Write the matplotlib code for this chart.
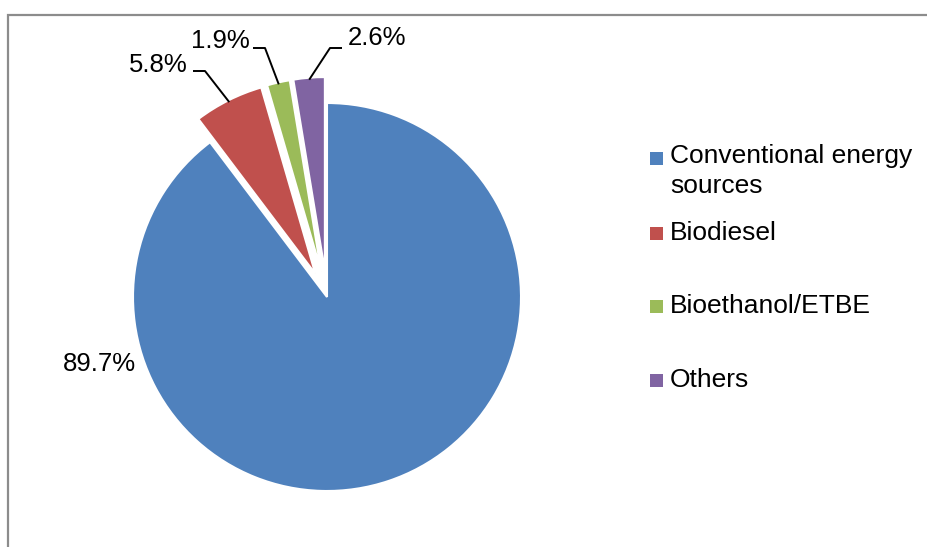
import numpy as np
import matplotlib
matplotlib.use("Agg")
import matplotlib.pyplot as plt
from matplotlib.patches import Rectangle

# ── Data ──
categories = ["Conventional energy\nsources", "Biodiesel", "Bioethanol/ETBE", "Others"]
shares = [89.7, 5.8, 1.9, 2.6]
pct_labels = ["89.7%", "5.8%", "1.9%", "2.6%"]
colors = ["#4F81BD", "#C0504D", "#9BBB59", "#8064A2"]
explode_frac = [0, 0.134, 0.134, 0.134]

plt.rcParams["font.family"] = ["Liberation Sans", "DejaVu Sans"]

W, H = 928, 547
fig = plt.figure(figsize=(W / 100, H / 100), dpi=100)
ax = fig.add_axes([0, 0, 1, 1])

# pie in pixel coordinates (y measured from bottom)
cx, cy, R = 327, H - 297, 194
wedges, _ = ax.pie(shares, colors=colors, explode=[e * R for e in explode_frac],
                   startangle=90, counterclock=False, center=(cx, cy), radius=R,
                   wedgeprops=dict(edgecolor="white", linewidth=1.5))
ax.set_xlim(0, W)
ax.set_ylim(0, H)
ax.set_aspect("auto")
ax.axis("off")

# outer chart frame
ax.add_patch(Rectangle((8, -10), W + 20, H - 15 + 10, fill=False,
                       edgecolor="#8c8c8c", linewidth=1.6))

# ── Data labels ──
fs = 18.5
ax.text(99, H - 364, pct_labels[0], ha="center", va="center", fontsize=fs)

# leader lines for the exploded slices: (text xy, elbow start, elbow end)
label_pos = {1: ((158, 65), (193, 71), (205, 71)),
             2: ((220, 41), (253, 48), (265, 48)),
             3: ((377, 38), (342, 48), (330, 48))}
for i, (txt, p0, p1) in label_pos.items():
    w = wedges[i]
    mid = np.deg2rad((w.theta1 + w.theta2) / 2)
    ex, ey = w.center
    tip = (ex + w.r * 0.99 * np.cos(mid), ey + w.r * 0.99 * np.sin(mid))
    ax.plot([p0[0], p1[0], tip[0]], [H - p0[1], H - p1[1], tip[1]],
            color="black", linewidth=1.4, solid_capstyle="butt")
    ax.text(txt[0], H - txt[1], pct_labels[i], ha="center", va="center", fontsize=fs)

# ── Legend (drawn by hand to keep Excel's uneven spacing) ──
leg_fs = 19
leg_y = [158, 233, 306, 380]
for i, y in enumerate(leg_y):
    ax.add_patch(Rectangle((650, H - y - 6.5), 13, 13, facecolor=colors[i], edgecolor="none"))
    if i == 0:
        ax.text(670, H - y + 14, categories[i], ha="left", va="top", fontsize=leg_fs,
                linespacing=1.3)
    else:
        ax.text(670, H - y, categories[i], ha="left", va="center", fontsize=leg_fs)

fig.savefig("out.png", dpi=100)
